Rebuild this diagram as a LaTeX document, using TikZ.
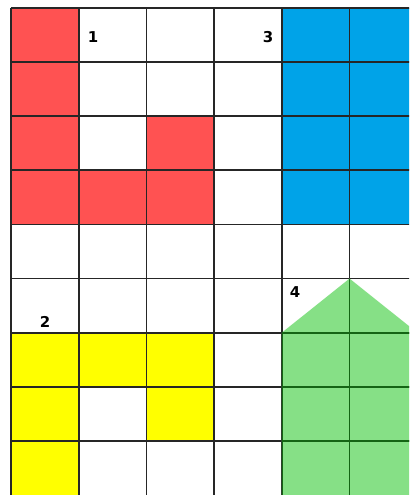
\documentclass[tikz,border=0pt]{standalone}
\usepackage{fontspec}
\setsansfont{DejaVu Sans}
\usepackage{tikz}

\definecolor{cellred}{RGB}{255,82,82}
\definecolor{cellblue}{RGB}{0,163,232}
\definecolor{cellyellow}{RGB}{255,255,0}
\definecolor{cellgreen}{RGB}{134,224,134}
\definecolor{greenline}{RGB}{20,100,20}

\begin{document}
\begin{tikzpicture}[
    x=1.354cm, y=-1.082cm,
    gridline/.style ={draw=black!85, line width=1pt},
    greengrid/.style={draw=greenline, line width=1pt},
    num/.style      ={font=\sffamily\bfseries\fontsize{8.5}{9}\selectfont,
                      inner sep=0pt}
]

% --- Page frame, cut at the right and bottom like the picture. ---
\useasboundingbox (-0.162,-0.148) rectangle (5.879,9.0);
\clip (-0.162,-0.148) rectangle (5.879,8.995);
\fill[white] (-0.162,-0.148) rectangle (5.879,9.0);

% --- Piece 1 (red). ---
\foreach \c/\r in {0/0,0/1,0/2,0/3,1/3,2/3,2/2}
  \fill[cellred] (\c,\r) rectangle ++(1,1);

% --- Piece 3 (blue), runs off the right edge. ---
\fill[cellblue] (4,0) rectangle (6,4);

% --- Piece 2 (yellow). ---
\foreach \c/\r in {0/6,1/6,2/6,0/7,2/7,0/8}
  \fill[cellyellow] (\c,\r) rectangle ++(1,1);

% --- Grid lines. ---
\foreach \x in {0,...,5}
  \draw[gridline] (\x,0) -- (\x,9);
\foreach \y in {0,...,8}
  \draw[gridline] (0,\y) -- (6,\y);

% --- Piece 4 (green house shape), grid shows through in dark green. ---
\fill[cellgreen] (5,5) -- (4,6) -- (4,9) -- (6,9) -- (6,6) -- cycle;
\begin{scope}
  \clip (5,5) -- (4,6) -- (4,9) -- (6,9) -- (6,6) -- cycle;
  \foreach \x in {4,5}
    \draw[greengrid] (\x,5) -- (\x,9);
  \foreach \y in {6,7,8}
    \draw[greengrid] (4,\y) -- (6,\y);
\end{scope}

% --- Piece numbers. ---
\node[num] (lbl1) at (1.211,0.536) {1};
\node[num] (lbl3) at (3.796,0.536) {3};
\node[num] (lbl2) at (0.502,5.804) {2};
\node[num] (lbl4) at (4.195,5.250) {4};

\end{tikzpicture}
\end{document}
